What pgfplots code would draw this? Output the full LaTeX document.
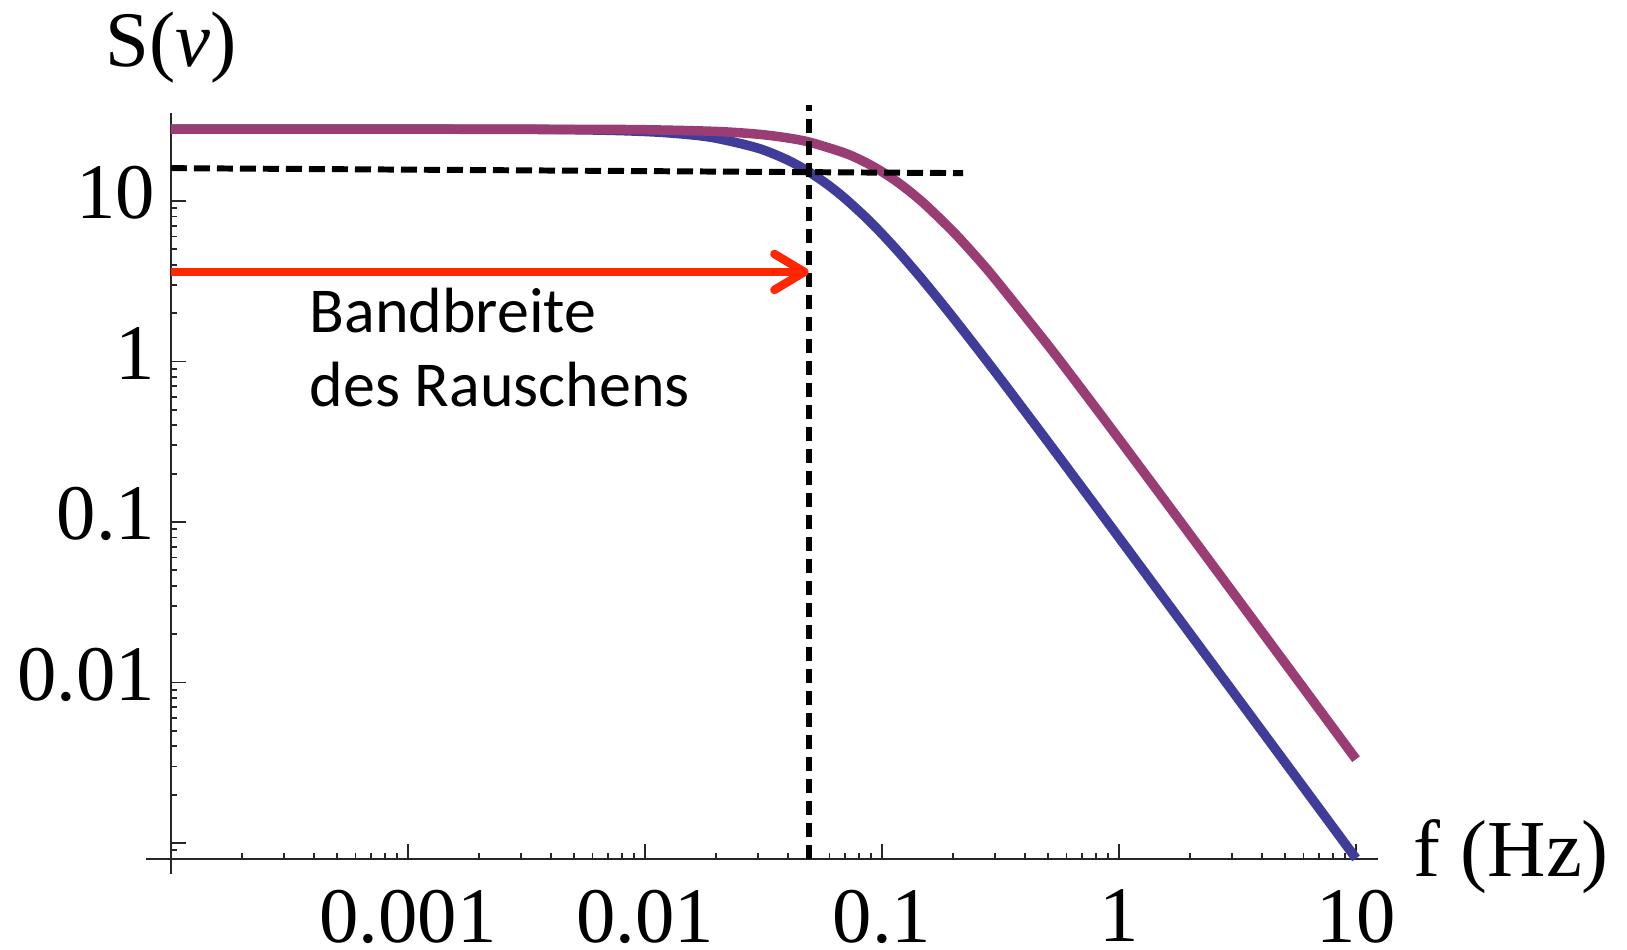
\documentclass[border=0pt]{standalone}
\usepackage{fontspec}
\setmainfont{Liberation Serif}
\newfontfamily\calibri{Carlito}
\usepackage{pgfplots}
\pgfplotsset{compat=1.18}
\usetikzlibrary{arrows.meta}

\definecolor{mmblue}{RGB}{63,61,153}
\definecolor{mmpurple}{RGB}{153,61,116}
\definecolor{arrowred}{RGB}{255,38,0}

\newcommand{\bigfont}{\fontsize{22.4}{26}\selectfont}

\begin{document}
\begin{tikzpicture}
\path[use as bounding box] (0,0) rectangle (16.27cm,9.50cm);
\begin{axis}[
    at={(1.71cm,0.91cm)}, anchor=south west,
    scale only axis, width=12.07cm, height=7.46cm,
    xmode=log, ymode=log,
    xmin=1e-4, xmax=12.38, ymin=7.95e-4, ymax=35.3,
    clip=false,
    axis lines=left,
    axis line style={-, line width=0.5pt, black!85},
    x axis line style={shorten <=-0.25cm},
    y axis line style={shorten <=-0.15cm},
    tick align=inside,
    major tick length=0.15cm, minor tick length=0.06cm,
    tick style={black!85, line width=0.5pt},
    xtick={1e-3,1e-2,0.1,1,10},
    xticklabels={0.001,0.01,0.1,1,10},
    minor xtick={2e-4,3e-4,4e-4,5e-4,6e-4,7e-4,8e-4,9e-4,
                 2e-3,3e-3,4e-3,5e-3,6e-3,7e-3,8e-3,9e-3,
                 0.02,0.03,0.04,0.05,0.06,0.07,0.08,0.09,
                 0.2,0.3,0.4,0.5,0.6,0.7,0.8,0.9,
                 2,3,4,5,6,7,8,9},
    ytick={1e-3,1e-2,0.1,1,10},
    yticklabels={,0.01,0.1,1,10},
    minor ytick={9e-4,
                 2e-3,3e-3,4e-3,5e-3,6e-3,7e-3,8e-3,9e-3,
                 0.02,0.03,0.04,0.05,0.06,0.07,0.08,0.09,
                 0.2,0.3,0.4,0.5,0.6,0.7,0.8,0.9,
                 2,3,4,5,6,7,8,9},
    ticklabel style={font=\bigfont, inner sep=0pt},
    xticklabel style={yshift=-0.30cm},
    yticklabel style={xshift=-0.15cm, yshift=0.08cm},
    xlabel={f (Hz)},
    xlabel style={at={(axis description cs:1,0)}, anchor=base west,
                  inner sep=0pt, xshift=0.35cm, yshift=-0.18cm,
                  font=\fontsize{23}{26}\selectfont},
    ylabel={S(\textit{ν})},
    ylabel style={rotate=-90, at={(axis description cs:0,1)}, anchor=base west,
                  inner sep=0pt, xshift=-0.66cm, yshift=0.46cm, font=\bigfont},
]
% narrow band noise
\addplot[mmblue, line width=2.7pt, smooth] coordinates {
    (1e-4,28) (1e-3,27.99) (0.005,27.76) (0.01,27.06) (0.015,25.96)
    (0.02,24.57) (0.03,21.30) (0.04,17.96) (0.05,14.94) (0.06,12.40)
    (0.07,10.32) (0.085,7.945) (0.1,6.231) (0.12,4.643) (0.15,3.160)
    (0.2,1.869) (0.3,0.8629) (0.5,0.3169) (0.7,0.1626) (1,0.07991)
    (2,0.02002) (5,0.003205) (10,0.000801)
};
% wide band noise
\addplot[mmpurple, line width=2.7pt, smooth] coordinates {
    (1e-4,28) (1e-3,28) (0.005,27.94) (0.01,27.77) (0.02,27.09)
    (0.03,26.03) (0.04,24.68) (0.05,23.13) (0.07,19.82) (0.085,17.41)
    (0.1,15.20) (0.12,12.66) (0.15,9.675) (0.2,6.412) (0.25,4.472)
    (0.3,3.265) (0.5,1.270) (0.7,0.6629) (1,0.3288) (2,0.08292)
    (5,0.01330) (10,0.003326)
};
\draw[black, line width=1.7pt, dash pattern=on 0.16cm off 0.07cm]
    (axis cs:1e-4,16.0) -- (axis cs:0.22,14.9);
\draw[black, line width=1.7pt, dash pattern=on 0.14cm off 0.08cm]
    (axis cs:0.049,7.95e-4) -- (axis cs:0.049,39.6);
\draw[arrowred, line width=2.4pt,
      -{Straight Barb[length=0.3cm, width=0.36cm, round]}]
    (axis cs:1e-4,3.61) -- (axis cs:0.049,3.61);
\node[anchor=base west, inner sep=0pt, font=\calibri\fontsize{18.2}{21}\selectfont]
    at (axis description cs:0.1144,0.7064) {Bandbreite};
\node[anchor=base west, inner sep=0pt, font=\calibri\fontsize{18.2}{21}\selectfont]
    at (axis description cs:0.1144,0.6059) {des Rauschens};
\end{axis}
\end{tikzpicture}
\end{document}
